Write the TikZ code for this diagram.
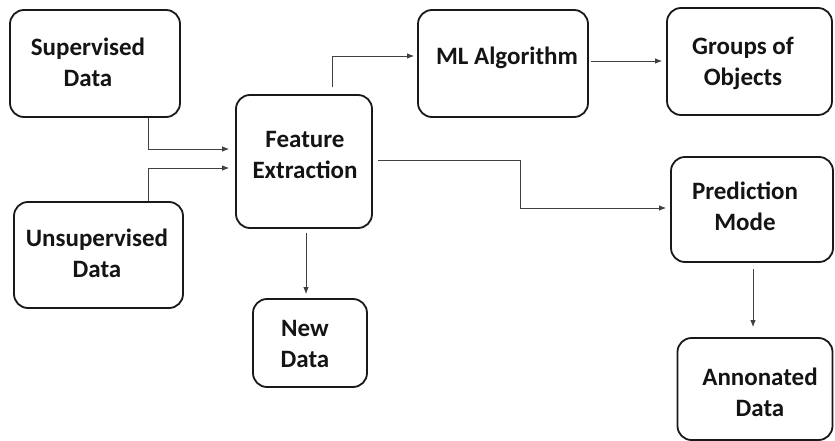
\documentclass[tikz,border=0pt]{standalone}
\usepackage{fontspec}
\setmainfont{Carlito}
\usetikzlibrary{arrows.meta}
\tikzset{
  box/.style={draw=black!90, line width=1.8pt, rounded corners=14pt, inner sep=0pt},
  txt/.style={align=center, font=\fontsize{25}{31}\selectfont\bfseries, text=black!92},
  arr/.style={draw=black!75, line width=0.9pt, -{Latex[length=7pt,width=5.5pt]}}
}
\begin{document}
\begin{tikzpicture}[x=1pt,y=-1pt]
\useasboundingbox (0,0) rectangle (835,441);
% boxes
\node[box, minimum width=170pt, minimum height=107pt] (sup) at (95,63.5) {};
\node[box, minimum width=169pt, minimum height=106pt] (unsup) at (98.5,255) {};
\node[box, minimum width=136pt, minimum height=133pt] (fe) at (304,161.5) {};
\node[box, minimum width=114pt, minimum height=88pt] (new) at (310,343) {};
\node[box, minimum width=170pt, minimum height=107pt] (ml) at (503,63.5) {};
\node[box, minimum width=165pt, minimum height=107pt] (grp) at (749.5,61.5) {};
\node[box, minimum width=162pt, minimum height=105pt] (pred) at (752,209.5) {};
\node[box, minimum width=155pt, minimum height=102pt] (ann) at (755,389) {};
% texts
\node[txt] (supT) at (88,62) {Supervised\\Data};
\node[txt] (unsupT) at (97,253.5) {Unsupervised\\Data};
\node[txt] (feT) at (305,155) {Feature\\Extraction};
\node[txt] (newT) at (305,344) {New\\Data};
\node[txt] (mlT) at (507,58) {ML Algorithm};
\node[txt] (grpT) at (743,63) {Groups of\\Objects};
\node[txt] (predT) at (745,206) {Prediction\\Mode};
\node[txt] (annT) at (760,392) {Annonated\\Data};
% connectors
\draw[arr, shorten >=6pt] ([xshift=53pt]sup.south) |- ([yshift=12.5pt]fe.west);
\draw[arr, shorten >=6pt] ([xshift=49.5pt]unsup.north) |- ([yshift=-6.5pt]fe.west);
\draw[arr, shorten <=7pt, shorten >=3pt] ([xshift=28pt]fe.north) |- ([yshift=7.5pt]ml.west);
\draw[arr, shorten <=2pt, shorten >=4pt] ([yshift=2.5pt]ml.east) -- ([yshift=2.5pt]ml.east -| grp.west);
\draw[arr, shorten <=5pt, shorten >=4pt] ([yshift=1.5pt]fe.east) -- ++(148,0) |- ([yshift=1.5pt]pred.west);
\draw[arr, shorten <=4pt, shorten >=4pt] ([xshift=2pt]fe.south) -- ([xshift=2pt]fe.south |- new.north);
\draw[arr, shorten <=6pt, shorten >=10pt] ([xshift=1pt]pred.south) -- ([xshift=1pt]pred.south |- ann.north);
\end{tikzpicture}
\end{document}
